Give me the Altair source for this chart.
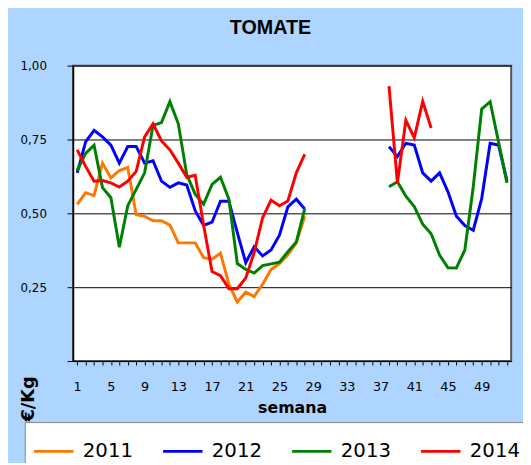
import altair as alt
import pandas as pd

years = ["2011", "2012", "2013", "2014"]
colors = ["#FF7700", "#0000FF", "#008000", "#FF0000"]

weeks_a = list(range(1, 29))
weeks_b = list(range(38, 53))

y2011_a = [0.53, 0.57, 0.56, 0.67, 0.62, 0.645, 0.655, 0.495, 0.49, 0.475, 0.475, 0.46, 0.40, 0.40,
           0.40, 0.35, 0.345, 0.365, 0.26, 0.20, 0.233, 0.218, 0.26, 0.31, 0.33, 0.36, 0.40, 0.49]
y2012_a = [0.637, 0.742, 0.781, 0.759, 0.731, 0.67, 0.726, 0.726, 0.67, 0.678, 0.609, 0.588, 0.603, 0.596,
           0.509, 0.459, 0.47, 0.541, 0.541, 0.435, 0.333, 0.387, 0.356, 0.376, 0.426, 0.522, 0.548, 0.515]
y2012_b = [0.726, 0.692, 0.737, 0.731, 0.637, 0.609, 0.637, 0.573, 0.49, 0.459, 0.443, 0.55, 0.737, 0.731, 0.61]
y2013_a = [0.645, 0.703, 0.731, 0.587, 0.553, 0.385, 0.526, 0.581, 0.637, 0.798, 0.807, 0.878, 0.803, 0.631,
           0.565, 0.531, 0.598, 0.622, 0.548, 0.330, 0.310, 0.298, 0.323, 0.329, 0.335, 0.37, 0.403, 0.515]
y2013_b = [0.59, 0.607, 0.558, 0.523, 0.463, 0.431, 0.359, 0.316, 0.315, 0.376, 0.59, 0.853, 0.878, 0.742, 0.603]
y2014_a = [0.715, 0.659, 0.609, 0.611, 0.603, 0.589, 0.609, 0.642, 0.759, 0.803, 0.745, 0.715, 0.67, 0.622,
           0.629, 0.46, 0.303, 0.289, 0.245, 0.245, 0.281, 0.367, 0.485, 0.545, 0.526, 0.542, 0.637, 0.70]
y2014_b = [0.931, 0.603, 0.815, 0.756, 0.879, 0.789]

series = [
    ("2011", "a", weeks_a, y2011_a),
    ("2012", "a", weeks_a, y2012_a),
    ("2012", "b", weeks_b, y2012_b),
    ("2013", "a", weeks_a, y2013_a),
    ("2013", "b", weeks_b, y2013_b),
    ("2014", "a", weeks_a, y2014_a),
    ("2014", "b", weeks_b[:len(y2014_b)], y2014_b),
]
rows = []
for yr, part, wks, vals in series:
    for w, v in zip(wks, vals):
        rows.append({"week": w, "price": v, "year": yr, "part": yr + part})
df = pd.DataFrame(rows)

chart = alt.Chart(df).mark_line(strokeWidth=3).encode(
    x=alt.X("week:Q",
            scale=alt.Scale(domain=[0.5, 52.5], nice=False, zero=False),
            axis=alt.Axis(values=list(range(1, 53)),
                          labelExpr="(datum.value - 1) % 4 == 0 ? datum.value : ''",
                          title="semana", grid=False, tickSize=4, tickColor="black",
                          domainColor="black", labelFontSize=13, labelFont="DejaVu Sans",
                          labelColor="black", labelPadding=16, labelAngle=0,
                          labelOverlap=False, labelFlush=False,
                          titleFont="DejaVu Sans", titleFontSize=16, titleFontWeight="bold",
                          titleColor="black", titlePadding=6)),
    y=alt.Y("price:Q",
            scale=alt.Scale(domain=[0, 1], nice=False),
            axis=alt.Axis(values=[0, 0.25, 0.5, 0.75, 1.0],
                          labelExpr="datum.value == 0 ? '' : replace(format(datum.value, '.2f'), '.', ',')",
                          title="€/Kg", titleAngle=270, titleX=-45, titleY=338,
                          titleAlign="center", titleBaseline="middle",
                          titleFont="DejaVu Sans", titleFontSize=18, titleFontWeight="bold",
                          titleColor="black",
                          grid=True, gridColor="black", gridOpacity=1, gridWidth=1,
                          tickSize=6, tickColor="black", domainColor="black", domainWidth=1.5,
                          labelFontSize=12, labelFont="DejaVu Sans", labelColor="black",
                          labelPadding=21)),
    color=alt.Color("year:N",
                    scale=alt.Scale(domain=years, range=colors),
                    legend=alt.Legend(title=None, orient="none", legendX=-49, legendY=362,
                                      direction="horizontal", fillColor="white",
                                      strokeColor="#888888", padding=8,
                                      symbolType="stroke", symbolSize=1600, symbolStrokeWidth=3,
                                      labelFontSize=20, labelFont="DejaVu Sans", labelColor="black",
                                      labelOffset=8, columnPadding=24, labelLimit=0)),
    detail="part:N",
).properties(
    width=445,
    height=300,
    title=alt.TitleParams("TOMATE", font="Liberation Sans", fontSize=20, fontWeight="bold",
                          anchor="middle", dx=-22, color="black", offset=22),
    autosize=alt.AutoSizeParams(type="none"),
    padding={"left": 66, "top": 55, "right": 12, "bottom": 100},
).configure(
    background="#ADD5FF"
).configure_view(
    fill="white", stroke="#555555", strokeWidth=2
)

chart.save("out.html", embed_options={"renderer": "svg", "actions": False})
